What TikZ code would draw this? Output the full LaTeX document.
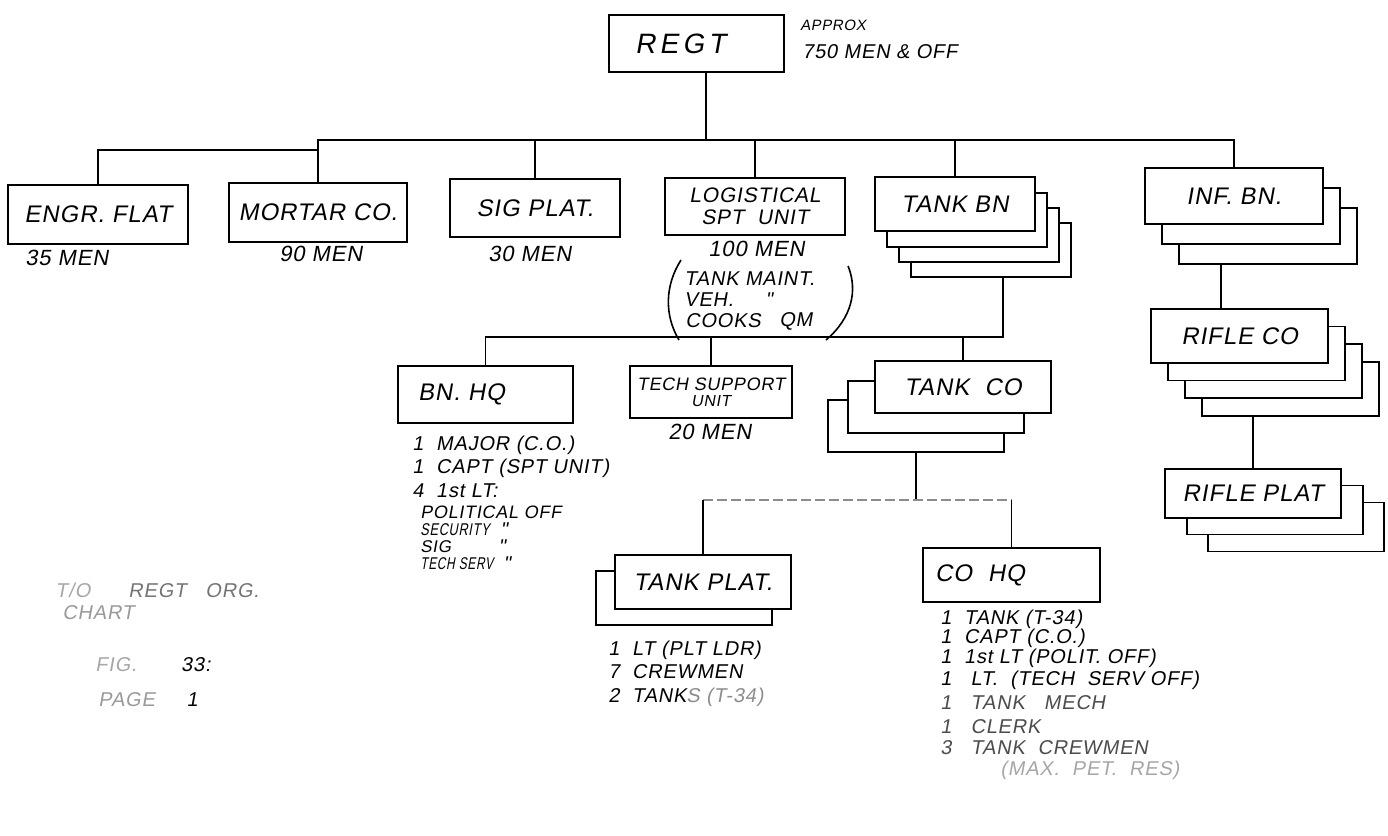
\documentclass[tikz,border=0pt]{standalone}
\usepackage{fontspec}
\setmainfont{Liberation Sans}
\newfontfamily\hand[FakeSlant=0.18,LetterSpace=4]{Liberation Sans}
\newcommand\bfnt{\hand\fontsize{12}{14}\selectfont}
\newcommand\mfnt{\hand\fontsize{10.5}{11}\selectfont}
\newcommand\lfnt{\hand\fontsize{10}{12}\selectfont}
\newcommand\sfnt{\hand\fontsize{11}{13}\selectfont}
\begin{document}
\begin{tikzpicture}[x=0.5pt,y=-0.5pt,
  box/.style={draw, line width=0.8pt, fill=white, inner sep=0pt, font=\bfnt},
  wire/.style={line width=0.8pt},
  faint/.style={line width=0.6pt, black!45, dash pattern=on 5pt off 2pt},
  lst/.style={anchor=west, inner sep=0pt, font=\lfnt},
  note/.style={anchor=west, inner sep=0pt, font=\sfnt}]
\useasboundingbox (0,0) rectangle (1388,836);

% ---------- top ----------
\node[box, minimum width=87.5pt, minimum height=28.5pt, text width=61.5pt, inner xsep=13pt, align=left,
      font=\hand\fontsize{14}{16}\selectfont\addfontfeature{LetterSpace=15}] (regt) at (696.5,43.5) {REGT};
\node[note, font=\hand\fontsize{7.5}{9}\selectfont] (apx) at (800,25) {APPROX};
\node[note, font=\lfnt] (men750) at (802,52) {750 MEN \& OFF};

% ---------- row 1 ----------
\node[box, minimum width=90pt, minimum height=29.5pt] (engr) at (98,214.5) {ENGR. FLAT};
\node[box, minimum width=89pt, minimum height=29.5pt] (mort) at (318,212.5) {MORTAR CO.};
\node[box, minimum width=85pt, minimum height=29pt] (sig) at (535,208) {SIG PLAT.};
\node[box, minimum width=90pt, minimum height=28.5pt, font=\mfnt, align=center] (logi) at (755,206.5) {LOGISTICAL\\SPT\ \ UNIT};

\node[note] (m35) at (25,258) {35 MEN};
\node[note] (m90) at (279,254) {90 MEN};
\node[note] (m30) at (488,254) {30 MEN};
\node[note] (m100) at (708,249) {100 MEN};

\node[lst] (lg1) at (684,279) {TANK MAINT.};
\node[lst] (lg2) at (684,300) {VEH.};
\node[lst] (lg2d) at (765,300) {"};
\node[lst] (lg3) at (685,321) {COOKS};
\node[lst] (lg3b) at (779,321) {QM};
\draw[wire] (681,260) .. controls (665,285) and (664,315) .. (679,340);
\draw[wire] (848,266) .. controls (858,290) and (852,318) .. (826,340);

% TANK BN stack
\node[box, minimum width=80pt, minimum height=27pt] (tbn4) at (991,250) {};
\node[box, minimum width=80pt, minimum height=27pt] (tbn3) at (979,235) {};
\node[box, minimum width=80pt, minimum height=27pt] (tbn2) at (967,220) {};
\node[box, minimum width=80pt, minimum height=27pt] (tbn) at (955,204) {TANK BN};

% INF BN stack
\node[box, minimum width=89pt, minimum height=28pt] (inf3) at (1268,236) {};
\node[box, minimum width=89pt, minimum height=28pt] (inf2) at (1251,216) {};
\node[box, minimum width=89pt, minimum height=28pt] (inf) at (1234,196) {INF. BN.};

% ---------- row 2 ----------
\node[box, minimum width=87.5pt, minimum height=28.5pt, text width=67.5pt, inner xsep=10pt, align=left] (bnhq) at (485.5,394.5) {BN. HQ};
\node[box, minimum width=81pt, minimum height=26pt, font=\hand\fontsize{9}{10}\selectfont, align=center] (tech) at (711,392) {TECH SUPPORT\\[-2pt]{\fontsize{8}{9}\selectfont UNIT}};
\node[note] (m20) at (668,432) {20 MEN};

\node[lst] (h1) at (412,445) {1\ \ MAJOR (C.O.)};
\node[lst] (h2) at (412,468) {1\ \ CAPT (SPT UNIT)};
\node[lst] (h3) at (412,491) {4\ \ 1st LT:};
\node[lst, font=\hand\fontsize{9}{11}\selectfont] (h4) at (420,512) {POLITICAL OFF};
\node[lst, font=\hand\fontsize{8.5}{10}\selectfont\addfontfeature{FakeStretch=0.75}] (h5) at (420,530) {SECURITY};
\node[lst] (h5d) at (500,530) {"};
\node[lst, font=\hand\fontsize{8.5}{10}\selectfont] (h6) at (420,547) {SIG};
\node[lst] (h6d) at (498,547) {"};
\node[lst, font=\hand\fontsize{8.5}{10}\selectfont\addfontfeature{FakeStretch=0.7}] (h7) at (420,564) {TECH SERV};
\node[lst] (h7d) at (503,564) {"};

% TANK CO stack
\node[box, minimum width=88pt, minimum height=26pt] (tco3) at (916,426) {};
\node[box, minimum width=88pt, minimum height=26pt] (tco2) at (936,407) {};
\node[box, minimum width=88pt, minimum height=26pt] (tco) at (963,387) {TANK\ \ CO};

% RIFLE CO stack
\node[box, minimum width=88.5pt, minimum height=27pt] (rco4) at (1290.5,389) {};
\node[box, minimum width=88.5pt, minimum height=27pt] (rco3) at (1273.5,371) {};
\node[box, minimum width=88.5pt, minimum height=27pt] (rco2) at (1256.5,353.5) {};
\node[box, minimum width=88.5pt, minimum height=27pt] (rco) at (1239.5,336) {RIFLE CO};

% RIFLE PLAT stack
\node[box, minimum width=88pt, minimum height=24.5pt] (rpl3) at (1296,527) {};
\node[box, minimum width=88pt, minimum height=24.5pt] (rpl2) at (1275,510) {};
\node[box, minimum width=88pt, minimum height=24.5pt] (rpl) at (1253,493.5) {RIFLE PLAT};

% ---------- row 3 ----------
\node[box, minimum width=88pt, minimum height=27pt] (tpl2) at (684,598) {};
\node[box, minimum width=88pt, minimum height=27pt] (tpl) at (703,582) {TANK PLAT.};
\node[lst] (p1) at (608,650) {1\ \ LT (PLT LDR)};
\node[lst] (p2) at (608,672) {7\ \ CREWMEN};
\node[lst] (p3) at (608,697) {2\ \ TANK\textcolor{black!45}{S (T-34)}};

\node[box, minimum width=88.5pt, minimum height=27pt, text width=76.5pt, inner xsep=6pt, align=left] (cohq) at (1011.5,575) {CO\ \ HQ};
\node[lst] (c1) at (940,619) {1\ \ TANK (T-34)};
\node[lst] (c2) at (940,638) {1\ \ CAPT (C.O.)};
\node[lst] (c3) at (940,658) {1\ \ 1st LT (POLIT. OFF)};
\node[lst] (c4) at (940,680) {1\ \ \ LT.\ \ (TECH\ \ SERV OFF)};
\node[lst, text=black!70] (c5) at (940,703) {1\ \ \ TANK\ \ \ MECH};
\node[lst, text=black!70] (c6) at (940,727) {1\ \ \ CLERK};
\node[lst, text=black!70] (c7) at (940,748) {3\ \ \ TANK\ \ CREWMEN};
\node[lst, text=black!35] (c8) at (1000,770) {(MAX.\ \ PET.\ \ RES)};

% ---------- bottom-left caption ----------
\node[lst, text=black!55] (f1) at (55,590) {\textcolor{black!35}{T/O}\ \ \ \ \ \ REGT\ \ \ ORG.};
\node[lst, text=black!40] (f2) at (62,613) {CHART};
\node[lst] (f3) at (95,665) {\textcolor{black!35}{FIG.}\ \ \ \ \ \ \ 33:};
\node[lst] (f4) at (98,700) {\textcolor{black!40}{PAGE}\ \ \ \ \ 1};

% ---------- connectors ----------
\coordinate (bl) at (318,150);
\coordinate (bm) at (318,140);
\coordinate (jr) at (706,140);
\draw[wire] (engr.north) |- (bl) -- (mort.north);
\draw[wire] (bl) -- (bm) -- (inf.north |- bm) -- (inf.north);
\draw[wire, line width=1.1pt] (regt.south -| jr) -- (jr);
\draw[wire] (sig.north) -- (sig.north |- bm);
\draw[wire] (logi.north) -- (logi.north |- bm);
\draw[wire] (tbn.north) -- (tbn.north |- bm);

\coordinate (j2) at (1003,337);
\draw[wire] (j2 |- tbn4.south) -- (j2) -- (bnhq.north |- j2) -- (bnhq.north);
\draw[wire] (tech.north |- j2) -- (tech.north);
\draw[wire] (tco.north |- j2) -- (tco.north);

\coordinate (j4) at (1221,309);
\draw[wire] (j4 |- inf3.south) -- (j4);
\draw[wire] (rpl.north) -- (rpl.north |- rco4.south);

\coordinate (j3) at (916,500);
\draw[wire, line width=1.1pt] (tco3.south) -- (j3);
\draw[faint] (tpl.north |- j3) -- (cohq.north |- j3);
\draw[wire, line width=0.6pt] (tpl.north |- j3) -- (tpl.north);
\draw[wire] (cohq.north |- j3) -- (cohq.north);
\end{tikzpicture}
\end{document}
